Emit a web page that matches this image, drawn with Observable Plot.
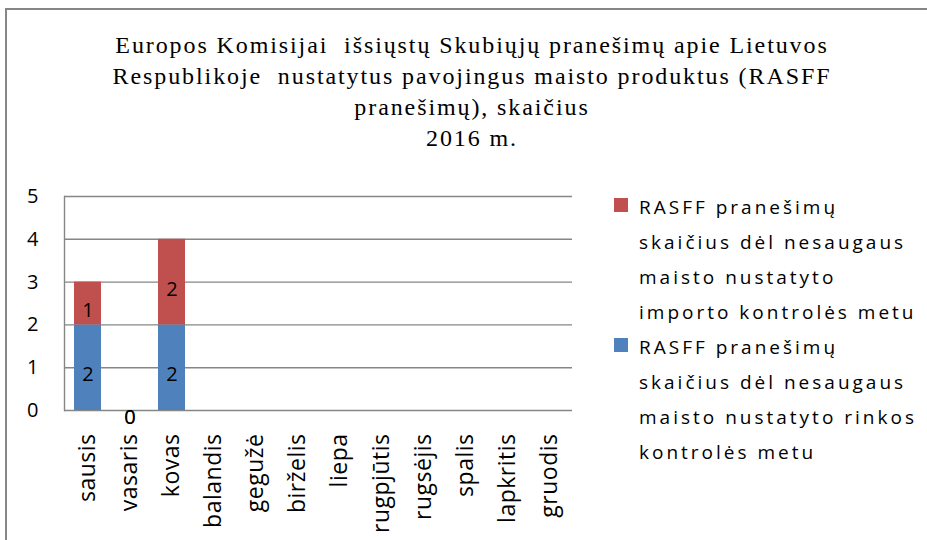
<!DOCTYPE html>
<html>
<head>
<meta charset="utf-8">
<script src="https://cdn.jsdelivr.net/npm/d3@7"></script>
<script src="https://cdn.jsdelivr.net/npm/@observablehq/plot@0.6"></script>
<style>
  html, body { margin: 0; padding: 0; background: #fff; }
  #wrap { position: relative; width: 927px; height: 540px; overflow: hidden; background: #fff; }
  #frame { position: absolute; left: 5px; top: 8px; width: 940px; height: 560px; border: 2px solid #868686; box-sizing: border-box; }
  #title { position: absolute; left: 0; top: 30px; width: 944px; text-align: center; white-space: pre;
           font-family: "Liberation Serif", "Times New Roman", serif; font-size: 24px; line-height: 31px; color: #000; letter-spacing: 1.9px; }
  #legend { position: absolute; left: 614px; top: 190px; font-family: "Open Sans", sans-serif; font-size: 19px; line-height: 35px; color: #000; letter-spacing: 3px; }
  .item { position: relative; padding-left: 25px; }
  .sw { position: absolute; left: 0; top: 8px; width: 14px; height: 14px; }
  #chart { position: absolute; left: 0; top: 0; }
  #chart g[aria-label="x-axis tick label"] text { letter-spacing: 0.5px; }
</style>
</head>
<body>
<div id="wrap">
  <div id="chart"></div>
  <div id="frame"></div>
  <div id="title"></div>
  <div id="legend"></div>
</div>
<script>
const titleLines = [
  "Europos Komisijai  išsiųstų Skubiųjų pranešimų apie Lietuvos",
  "Respublikoje  nustatytus pavojingus maisto produktus (RASFF",
  "pranešimų), skaičius",
  "2016 m."
];
const months = ["sausis","vasaris","kovas","balandis","gegužė","birželis","liepa","rugpjūtis","rugsėjis","spalis","lapkritis","gruodis"];
const seriesNames = [
  "RASFF pranešimų skaičius dėl nesaugaus maisto nustatyto rinkos kontrolės metu",
  "RASFF pranešimų skaičius dėl nesaugaus maisto nustatyto importo kontrolės metu"
];
const legendLines = [
  ["RASFF pranešimų", "skaičius dėl nesaugaus", "maisto nustatyto", "importo kontrolės metu"],
  ["RASFF pranešimų", "skaičius dėl nesaugaus", "maisto nustatyto rinkos", "kontrolės metu"]
];
const rinkos  = [2, 0, 2, null, null, null, null, null, null, null, null, null];
const importo = [1, 0, 2, null, null, null, null, null, null, null, null, null];
const colors = ["#4F81BD", "#C0504D"];
const yTicks = [0, 1, 2, 3, 4, 5];

const data = [];
months.forEach((m, i) => {
  data.push({month: m, series: seriesNames[0], value: rinkos[i]});
  data.push({month: m, series: seriesNames[1], value: importo[i]});
});
const present = data.filter(d => d.value != null);

document.getElementById("title").innerHTML = titleLines.map(t => `<div>${t}</div>`).join("");
document.getElementById("legend").innerHTML = [
  {c: colors[1], lines: legendLines[0]},
  {c: colors[0], lines: legendLines[1]}
].map(it => `<div class="item"><span class="sw" style="background:${it.c}"></span>${it.lines.map(l => `<div>${l}</div>`).join("")}</div>`).join("");

const chart = Plot.plot({
  width: 927,
  height: 540,
  marginLeft: 64,
  marginRight: 355,
  marginTop: 196,
  marginBottom: 130,
  style: {fontFamily: "Open Sans, sans-serif", fontSize: "19px", color: "#000", background: "transparent"},
  x: {domain: months, paddingInner: 0.36, paddingOuter: 0.18, label: null},
  y: {domain: [0, 5], label: null},
  color: {domain: seriesNames, range: colors},
  marks: [
    Plot.ruleY(yTicks, {stroke: "#868686", strokeWidth: 1.4}),
    Plot.frame({anchor: "left", stroke: "#868686", strokeWidth: 1.4}),
    Plot.barY(present, Plot.stackY({x: "month", y: "value", fill: "series", order: seriesNames})),
    Plot.text(present, Plot.stackY({x: "month", y: "value", z: "series", order: seriesNames, text: d => String(d.value), fill: "#000", fontSize: 20, dy: 7})),
    Plot.axisY({ticks: yTicks, tickSize: 0, tickPadding: 26, fontSize: 20, tickFormat: d => String(d)}),
    Plot.axisX({tickSize: 0, tickPadding: 23, tickRotate: -90, fontSize: 23})
  ]
});
document.getElementById("chart").appendChild(chart);
</script>
</body>
</html>
